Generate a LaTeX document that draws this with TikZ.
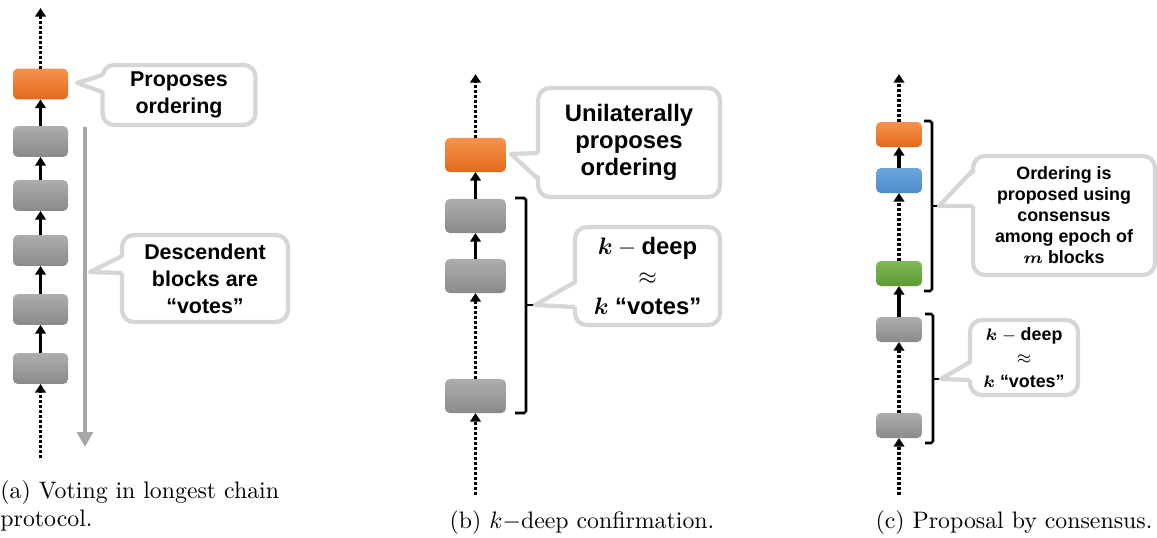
\documentclass[tikz,border=0pt]{standalone}
\usepackage{fontspec}
\usepackage{bm}
\usetikzlibrary{arrows.meta}
\newfontfamily\bubblefont{Liberation Sans}

\definecolor{blkgraytop}{HTML}{ADADAD}
\definecolor{blkgraybot}{HTML}{8A8A8A}
\definecolor{blkorangetop}{HTML}{F4934E}
\definecolor{blkorangebot}{HTML}{E2691A}
\definecolor{blkbluetop}{HTML}{6BA5DC}
\definecolor{blkbluebot}{HTML}{4E8DCB}
\definecolor{blkgreentop}{HTML}{80B957}
\definecolor{blkgreenbot}{HTML}{5E9A33}
\definecolor{bubbleedge}{HTML}{D6D6D6}
\definecolor{voteline}{HTML}{A6A6A6}

\tikzset{
  blk/.style={rounded corners=2pt, inner sep=0pt, outer sep=0pt},
  sizeA/.style={minimum width=23.1pt, minimum height=13pt},
  sizeB/.style={minimum width=25.6pt, minimum height=14.3pt},
  sizeC/.style={minimum width=19.3pt, minimum height=10.5pt},
  grayblk/.style={blk, top color=blkgraytop, bottom color=blkgraybot},
  orangeblk/.style={blk, top color=blkorangetop, bottom color=blkorangebot},
  blueblk/.style={blk, top color=blkbluetop, bottom color=blkbluebot},
  greenblk/.style={blk, top color=blkgreentop, bottom color=blkgreenbot},
  link/.style={line width=1.4pt, -{Triangle[length=3.6pt,width=4.4pt]}},
  dotlink/.style={link, dash pattern=on 1.2pt off 0.9pt},
  brk/.style={line width=1.1pt, rounded corners=0.8pt},
  bubble/.style={fill=white, draw=bubbleedge, line width=1.8pt, rounded corners=5pt,
    align=center, inner sep=0pt, outer sep=0pt},
  textA/.style={font=\bubblefont\bfseries\fontsize{9}{11.3}\selectfont},
  textB/.style={font=\bubblefont\bfseries\fontsize{10}{11.5}\selectfont},
  textC/.style={font=\bubblefont\bfseries\fontsize{7.5}{8.8}\selectfont},
}

% pointer of a speech bubble: apex, then the two points on its left side
\newcommand{\bubbletip}[3]{%
  \fill[white] (#1) -- ([xshift=2pt]#2) -- ([xshift=2pt]#3) -- cycle;
  \draw[bubbleedge, line width=1.8pt, line join=round] (#2) -- (#1) -- (#3);
}

\begin{document}
\begin{tikzpicture}[x=0.42pt, y=-0.42pt]
  \useasboundingbox (0,0) rectangle (1157,537);
  % (a) voting in the longest chain
  \node[orangeblk, sizeA] (orA) at (40.5,84) {};
  \node[grayblk, sizeA] (gA1) at (40.5,141.5) {};
  \node[grayblk, sizeA] (gA2) at (40.5,195.5) {};
  \node[grayblk, sizeA] (gA3) at (40.5,250.5) {};
  \node[grayblk, sizeA] (gA4) at (40.5,309.5) {};
  \node[grayblk, sizeA] (gA5) at (40.5,368.5) {};
  \coordinate (topA) at (40.5,8);
  \coordinate (botA) at (40.5,458);
  \draw[dotlink] (orA.north) -- (topA);
  \draw[link] (gA1.north) -- (orA.south);
  \draw[link] (gA2.north) -- (gA1.south);
  \draw[link] (gA3.north) -- (gA2.south);
  \draw[link] (gA4.north) -- (gA3.south);
  \draw[link] (gA5.north) -- (gA4.south);
  \draw[dotlink] (botA) -- (gA5.south);
  \coordinate (voteTop) at (85,127);
  \coordinate (voteEnd) at (85,447);
  \draw[voteline, line width=1.7pt, -{Triangle[length=6.3pt,width=6.6pt]}] (voteTop) -- (voteEnd);
  \node[bubble, textA, minimum width=64.3pt, minimum height=25.2pt] (prA) at (179,95) {Proposes\\ordering};
  \coordinate (prTip) at (77,83);
  \bubbletip{prTip}{prA.west |- 0,75}{prA.west |- 0,92}
  \node[bubble, textA, minimum width=69.7pt, minimum height=36.5pt] (voA) at (205,278.5) {Descendent\\blocks are\\“votes”};
  \coordinate (voTip) at (90,272);
  \bubbletip{voTip}{voA.west |- 0,256}{voA.west |- 0,273}
  \node[anchor=north west, align=left, inner sep=0pt] (capA) at (0,480) {(a) Voting in longest chain\\protocol.};

  % (b) k-deep confirmation
  \node[orangeblk, sizeB] (orB) at (475.5,155) {};
  \node[grayblk, sizeB] (gB1) at (475.5,216) {};
  \node[grayblk, sizeB] (gB2) at (475.5,276) {};
  \node[grayblk, sizeB] (gB3) at (475.5,396) {};
  \coordinate (topB) at (475.5,74);
  \coordinate (botB) at (475.5,495);
  \draw[dotlink] (orB.north) -- (topB);
  \draw[link] (gB1.north) -- (orB.south);
  \draw[link] (gB2.north) -- (gB1.south);
  \draw[dotlink] (gB3.north) -- (gB2.south);
  \draw[dotlink] (botB) -- (gB3.south);
  \coordinate (brB) at (535,305);
  \draw[brk] (515,198) -- (526,198) -- (526,413) -- (515,413);
  \draw[brk] (526,305) -- (brB);
  \node[bubble, textB, minimum width=76.4pt, minimum height=45.8pt] (prB) at (629,142.5) {Unilaterally\\proposes\\ordering};
  \coordinate (prBTip) at (511,154);
  \bubbletip{prBTip}{prB.west |- 0,153}{prB.west |- 0,179}
  \node[bubble, textB, minimum width=60.9pt, minimum height=41.2pt] (kdB) at (647.5,276) {$\bm{k}-{}$deep\\[1pt]$\approx$\\[1pt]$\bm{k}$ “votes”};
  \bubbletip{brB}{kdB.west |- 0,282}{kdB.west |- 0,307}
  \node[anchor=base, inner sep=0pt] (capB) at (582,528) {(b) $k-$deep confirmation.};

  % (c) proposal by consensus
  \node[orangeblk, sizeC] (orC) at (899,134.5) {};
  \node[blueblk, sizeC] (blC) at (899,180.5) {};
  \node[greenblk, sizeC] (grC) at (899,273.5) {};
  \node[grayblk, sizeC] (gC1) at (899,329.5) {};
  \node[grayblk, sizeC] (gC2) at (899,425.5) {};
  \coordinate (topC) at (899,74);
  \coordinate (botC) at (899,495);
  \draw[dotlink] (orC.north) -- (topC);
  \draw[link] (blC.north) -- (orC.south);
  \draw[dotlink] (grC.north) -- (blC.south);
  \draw[link] (gC1.north) -- (grC.south);
  \draw[dotlink] (gC2.north) -- (gC1.south);
  \draw[dotlink] (botC) -- (gC2.south);
  \coordinate (epC) at (939,206);
  \coordinate (kdC) at (941,379);
  \draw[brk] (924,121) -- (932,121) -- (932,291) -- (924,291);
  \draw[brk] (932,206) -- (epC);
  \draw[brk] (925,314) -- (933,314) -- (933,443) -- (925,443);
  \draw[brk] (933,379) -- (kdC);
  \node[bubble, textC, minimum width=76.4pt, minimum height=50pt] (epBub) at (1064,215.5) {Ordering is\\proposed using\\consensus\\among epoch of\\$\bm{m}$ blocks};
  \bubbletip{epC}{epBub.west |- 0,170}{epBub.west |- 0,206}
  \node[bubble, textC, minimum width=45.4pt, minimum height=31.5pt] (kdBub) at (1024,357.5) {$\bm{k}-{}$deep\\[1pt]$\approx$\\[1pt]$\bm{k}$ “votes”};
  \bubbletip{kdC}{kdBub.west |- 0,362}{kdBub.west |- 0,380}
  \node[anchor=base, inner sep=0pt] (capC) at (1014,528) {(c) Proposal by consensus.};
\end{tikzpicture}
\end{document}
